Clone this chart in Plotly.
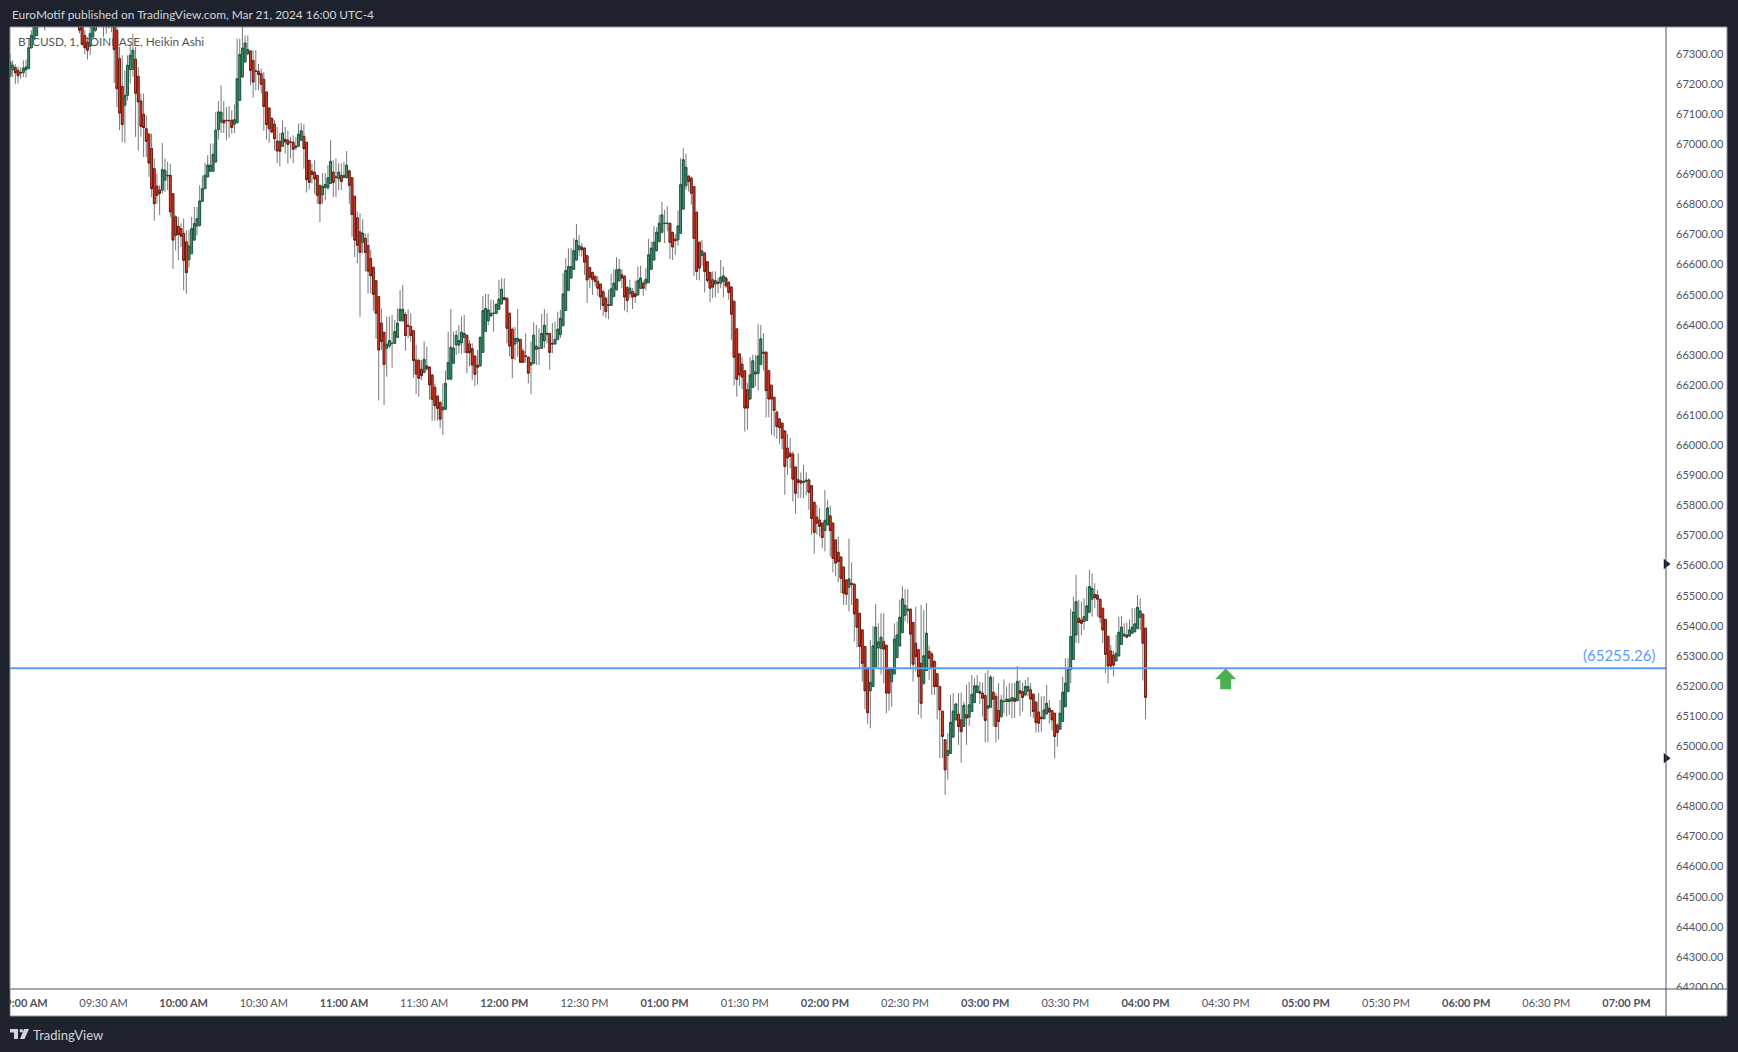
import pandas as pd
import plotly.graph_objects as go

# one minute Heikin Ashi bars (first ones run above the visible top)
open_ = [
    67222, 67244, 67251, 67242, 67235, 67235, 67244, 67249, 67317, 67347,
    67358, 67400, 67420, 67437, 67448, 67462, 67470, 67462, 67453, 67462,
    67456, 67448, 67454, 67447, 67438, 67429, 67419, 67397, 67358, 67336,
    67322, 67353, 67375, 67397, 67420, 67415, 67408, 67396, 67403, 67403,
    67375, 67281, 67189, 67126, 67159, 67245, 67245, 67279, 67222, 67140,
    67096, 67048, 67030, 66982, 66915, 66857, 66844, 66844, 66877, 66893,
    66893, 66832, 66755, 66724, 66716, 66700, 66672, 66613, 66633, 66678,
    66725, 66727, 66807, 66849, 66888, 66907, 66907, 66938, 67045, 67070,
    67076, 67076, 67076, 67076, 67063, 67068, 67142, 67220, 67270, 67297,
    67306, 67275, 67240, 67239, 67231, 67212, 67170, 67117, 67082, 67063,
    67007, 67006, 66990, 67013, 67010, 67004, 67003, 66990, 66990, 67010,
    67023, 67003, 66943, 66907, 66903, 66893, 66860, 66829, 66852, 66852,
    66866, 66904, 66888, 66882, 66893, 66886, 66886, 66908, 66885, 66824,
    66752, 66705, 66671, 66684, 66660, 66617, 66588, 66543, 66490, 66402,
    66372, 66319, 66326, 66334, 66335, 66355, 66410, 66410, 66431, 66395,
    66391, 66377, 66280, 66278, 66249, 66238, 66260, 66256, 66230, 66189,
    66160, 66139, 66114, 66116, 66216, 66216, 66269, 66330, 66329, 66337,
    66355, 66362, 66333, 66317, 66293, 66262, 66260, 66305, 66375, 66410,
    66426, 66434, 66435, 66448, 66466, 66487, 66485, 66435, 66382, 66333,
    66342, 66348, 66309, 66293, 66289, 66263, 66269, 66315, 66319, 66319,
    66344, 66368, 66368, 66335, 66333, 66348, 66364, 66394, 66444, 66511,
    66552, 66581, 66612, 66646, 66655, 66651, 66626, 66587, 66570, 66557,
    66541, 66532, 66507, 66485, 66463, 66461, 66491, 66513, 66543, 66563,
    66557, 66521, 66500, 66507, 66500, 66496, 66518, 66535, 66533, 66537,
    66581, 66612, 66643, 66673, 66704, 66733, 66733, 66734, 66703, 66681,
    66679, 66701, 66781, 66859, 66891, 66884, 66856, 66771, 66671, 66627,
    66635, 66606, 66571, 66546, 66532, 66538, 66535, 66541, 66552, 66538,
    66522, 66475, 66383, 66300, 66266, 66244, 66181, 66150, 66189, 66233,
    66235, 66265, 66306, 66306, 66244, 66196, 66156, 66106, 66084, 66070,
    66044, 65987, 65970, 65967, 65924, 65882, 65878, 65873, 65876, 65881,
    65862, 65807, 65758, 65748, 65738, 65713, 65732, 65762, 65738, 65682,
    65641, 65625, 65592, 65549, 65525, 65538, 65535, 65485, 65438, 65383,
    65328, 65257, 65181, 65195, 65261, 65323, 65322, 65344, 65332, 65252,
    65211, 65237, 65291, 65330, 65374, 65431, 65447, 65452, 65408, 65339,
    65317, 65272, 65206, 65248, 65312, 65303, 65278, 65237, 65195, 65113,
    65018, 64966, 64973, 65027, 65084, 65103, 65084, 65062, 65101, 65093,
    65112, 65142, 65175, 65178, 65173, 65165, 65123, 65126, 65176, 65162,
    65115, 65095, 65146, 65145, 65145, 65147, 65156, 65148, 65181, 65178,
    65167, 65180, 65184, 65169, 65143, 65110, 65093, 65088, 65104, 65123,
    65115, 65106, 65067, 65053, 65079, 65128, 65178, 65252, 65285, 65366,
    65422, 65416, 65411, 65414, 65442, 65485, 65501, 65499, 65485, 65455,
    65418, 65361, 65313, 65299, 65280, 65297, 65335, 65363, 65366, 65363,
    65372, 65377, 65388, 65425, 65435, 65389,
]
high = [
    67297, 67275, 67262, 67255, 67253, 67275, 67278, 67325, 67375, 67420,
    67430, 67455, 67470, 67480, 67490, 67500, 67495, 67480, 67490, 67485,
    67480, 67480, 67475, 67465, 67450, 67440, 67430, 67408, 67375, 67353,
    67386, 67408, 67430, 67445, 67440, 67430, 67420, 67425, 67415, 67414,
    67392, 67320, 67292, 67242, 67292, 67331, 67364, 67320, 67253, 67165,
    67165, 67093, 67032, 67032, 66949, 66899, 66860, 67001, 66949, 66938,
    66932, 66832, 66761, 66755, 66733, 66750, 66711, 66711, 66755, 66788,
    66788, 66860, 66893, 66934, 66960, 66999, 66999, 67104, 67140, 67192,
    67140, 67120, 67123, 67109, 67129, 67347, 67347, 67392, 67358, 67358,
    67309, 67309, 67309, 67264, 67248, 67237, 67170, 67117, 67087, 67076,
    67054, 67034, 67076, 67054, 67041, 67021, 67026, 67021, 67065, 67067,
    67063, 67004, 66943, 66932, 66943, 66893, 66860, 66901, 66901, 66927,
    67010, 66943, 66949, 66934, 66932, 66938, 66974, 66912, 66886, 66824,
    66772, 66768, 66748, 66701, 66701, 66645, 66588, 66543, 66490, 66451,
    66372, 66424, 66424, 66429, 66413, 66451, 66512, 66529, 66440, 66448,
    66435, 66377, 66330, 66285, 66280, 66341, 66324, 66258, 66230, 66200,
    66160, 66141, 66202, 66244, 66374, 66449, 66374, 66379, 66396, 66424,
    66429, 66363, 66346, 66335, 66293, 66313, 66357, 66492, 66499, 66499,
    66481, 66479, 66465, 66546, 66551, 66551, 66485, 66435, 66388, 66390,
    66449, 66348, 66319, 66368, 66291, 66341, 66405, 66396, 66385, 66433,
    66449, 66435, 66368, 66402, 66407, 66440, 66446, 66568, 66618, 66651,
    66651, 66684, 66732, 66695, 66668, 66655, 66629, 66590, 66574, 66563,
    66559, 66533, 66513, 66491, 66513, 66566, 66581, 66621, 66615, 66581,
    66563, 66524, 66546, 66518, 66544, 66590, 66593, 66544, 66585, 66682,
    66673, 66725, 66721, 66762, 66806, 66779, 66790, 66734, 66707, 66698,
    66776, 66950, 66983, 66965, 66891, 66889, 66856, 66771, 66673, 66679,
    66637, 66606, 66571, 66574, 66574, 66552, 66612, 66590, 66557, 66541,
    66524, 66475, 66383, 66300, 66289, 66244, 66203, 66289, 66297, 66297,
    66400, 66396, 66369, 66306, 66244, 66196, 66156, 66112, 66086, 66070,
    66044, 66034, 66020, 65976, 65926, 65970, 65906, 65931, 65907, 65887,
    65862, 65807, 65799, 65788, 65738, 65848, 65815, 65795, 65738, 65682,
    65693, 65625, 65592, 65549, 65686, 65607, 65538, 65485, 65438, 65383,
    65328, 65257, 65350, 65396, 65469, 65405, 65438, 65438, 65332, 65256,
    65252, 65405, 65411, 65483, 65529, 65518, 65518, 65452, 65408, 65460,
    65317, 65466, 65449, 65472, 65331, 65311, 65283, 65237, 65195, 65113,
    65018, 65040, 65167, 65173, 65139, 65173, 65175, 65145, 65200, 65211,
    65233, 65222, 65233, 65211, 65208, 65239, 65250, 65233, 65228, 65173,
    65206, 65167, 65219, 65195, 65206, 65206, 65206, 65263, 65217, 65208,
    65217, 65226, 65206, 65173, 65145, 65173, 65162, 65164, 65200, 65150,
    65117, 65108, 65073, 65150, 65228, 65289, 65289, 65452, 65494, 65566,
    65483, 65477, 65488, 65527, 65582, 65571, 65538, 65516, 65485, 65455,
    65418, 65366, 65333, 65314, 65366, 65427, 65429, 65405, 65407, 65418,
    65455, 65455, 65499, 65488, 65438, 65389,
]
low = [
    67220, 67220, 67196, 67198, 67214, 67220, 67218, 67244, 67314, 67342,
    67355, 67390, 67400, 67375, 67420, 67430, 67430, 67420, 67425, 67420,
    67410, 67415, 67410, 67400, 67395, 67390, 67365, 67325, 67295, 67278,
    67292, 67347, 67370, 67390, 67386, 67353, 67364, 67380, 67369, 67200,
    67120, 67043, 67004, 67001, 67142, 67198, 67220, 67021, 66976, 67021,
    66954, 66954, 66888, 66821, 66742, 66799, 66761, 66833, 66838, 66844,
    66755, 66583, 66644, 66611, 66655, 66511, 66500, 66587, 66633, 66678,
    66694, 66722, 66805, 66847, 66888, 66904, 66904, 66934, 67012, 67034,
    67034, 67010, 67018, 67032, 67034, 67068, 67140, 67218, 67270, 67292,
    67192, 67151, 67176, 67176, 67165, 67041, 67012, 67001, 67032, 66976,
    66934, 66923, 66987, 66965, 66932, 66949, 66934, 66976, 66987, 67007,
    66915, 66836, 66846, 66866, 66832, 66799, 66738, 66799, 66810, 66844,
    66866, 66821, 66821, 66844, 66844, 66882, 66882, 66799, 66689, 66622,
    66600, 66423, 66634, 66573, 66501, 66501, 66443, 66350, 66145, 66313,
    66130, 66224, 66319, 66254, 66335, 66355, 66410, 66407, 66311, 66352,
    66341, 66221, 66167, 66158, 66213, 66236, 66244, 66147, 66078, 66078,
    66078, 66053, 66031, 66114, 66213, 66213, 66269, 66296, 66302, 66300,
    66302, 66236, 66258, 66213, 66193, 66198, 66258, 66304, 66374, 66396,
    66424, 66374, 66433, 66446, 66465, 66479, 66335, 66291, 66219, 66280,
    66291, 66271, 66271, 66271, 66202, 66166, 66267, 66263, 66263, 66319,
    66319, 66335, 66247, 66302, 66330, 66346, 66352, 66391, 66444, 66511,
    66552, 66579, 66610, 66624, 66624, 66563, 66469, 66518, 66496, 66524,
    66491, 66446, 66426, 66419, 66415, 66460, 66488, 66511, 66541, 66518,
    66444, 66438, 66485, 66449, 66469, 66494, 66515, 66493, 66511, 66535,
    66579, 66610, 66640, 66671, 66701, 66668, 66707, 66615, 66612, 66629,
    66659, 66699, 66779, 66845, 66839, 66795, 66559, 66546, 66544, 66593,
    66504, 66535, 66471, 66485, 66488, 66502, 66518, 66488, 66518, 66480,
    66347, 66195, 66158, 66194, 66183, 66042, 66048, 66147, 66186, 66192,
    66178, 66264, 66245, 66089, 66089, 66031, 66026, 66018, 66001, 65983,
    65832, 65898, 65920, 65810, 65769, 65821, 65821, 65821, 65830, 65782,
    65699, 65636, 65699, 65693, 65655, 65644, 65729, 65627, 65574, 65561,
    65541, 65505, 65466, 65466, 65444, 65466, 65345, 65325, 65259, 65211,
    65119, 65071, 65056, 65195, 65259, 65259, 65235, 65206, 65106, 65115,
    65128, 65233, 65289, 65328, 65372, 65411, 65405, 65252, 65211, 65245,
    65101, 65090, 65200, 65248, 65217, 65167, 65167, 65086, 64957, 64957,
    64835, 64885, 64973, 65023, 65084, 65001, 64942, 65060, 65001, 65064,
    65112, 65139, 65173, 65137, 65095, 65009, 65009, 65123, 65062, 65009,
    65018, 65090, 65106, 65095, 65101, 65090, 65090, 65145, 65097, 65112,
    65162, 65162, 65095, 65090, 65042, 65042, 65045, 65086, 65102, 65073,
    65049, 64956, 64995, 65051, 65079, 65126, 65176, 65206, 65283, 65339,
    65339, 65366, 65383, 65414, 65438, 65427, 65455, 65427, 65405, 65339,
    65239, 65206, 65250, 65228, 65278, 65294, 65333, 65361, 65355, 65359,
    65370, 65375, 65385, 65383, 65215, 65086,
]
close = [
    67270, 67259, 67234, 67224, 67233, 67249, 67253, 67317, 67358, 67397,
    67419, 67440, 67455, 67460, 67475, 67480, 67455, 67445, 67470, 67450,
    67440, 67460, 67440, 67430, 67420, 67410, 67375, 67328, 67317, 67309,
    67364, 67397, 67419, 67430, 67410, 67400, 67392, 67410, 67392, 67311,
    67181, 67100, 67062, 67159, 67259, 67292, 67309, 67166, 67137, 67056,
    67052, 67006, 66934, 66849, 66799, 66827, 66833, 66912, 66910, 66892,
    66772, 66678, 66694, 66697, 66691, 66611, 66570, 66658, 66716, 66733,
    66749, 66808, 66849, 66893, 66927, 66927, 66963, 67043, 67104, 67103,
    67067, 67075, 67075, 67052, 67078, 67214, 67295, 67316, 67333, 67311,
    67242, 67203, 67239, 67228, 67196, 67122, 67062, 67048, 67037, 67015,
    66974, 66973, 67034, 67004, 66996, 67003, 66980, 66987, 67030, 67041,
    66982, 66879, 66870, 66896, 66881, 66827, 66799, 66857, 66863, 66885,
    66940, 66870, 66886, 66904, 66873, 66893, 66927, 66860, 66763, 66678,
    66661, 66637, 66701, 66637, 66575, 66560, 66498, 66435, 66313, 66341,
    66265, 66332, 66344, 66335, 66374, 66402, 66448, 66448, 66361, 66391,
    66361, 66278, 66233, 66219, 66228, 66282, 66251, 66197, 66149, 66128,
    66119, 66083, 66123, 66202, 66271, 66322, 66319, 66362, 66344, 66372,
    66368, 66304, 66304, 66263, 66232, 66256, 66355, 66444, 66451, 66446,
    66435, 66435, 66465, 66482, 66515, 66480, 66385, 66326, 66285, 66351,
    66352, 66272, 66272, 66292, 66236, 66271, 66362, 66326, 66318, 66368,
    66395, 66366, 66305, 66333, 66348, 66382, 66418, 66499, 66577, 66590,
    66590, 66643, 66677, 66659, 66646, 66605, 66546, 66555, 66548, 66541,
    66518, 66489, 66461, 66441, 66462, 66516, 66535, 66579, 66581, 66552,
    66489, 66477, 66518, 66489, 66491, 66543, 66552, 66518, 66548, 66629,
    66651, 66671, 66704, 66734, 66762, 66734, 66734, 66671, 66655, 66676,
    66725, 66862, 66945, 66920, 66873, 66834, 66684, 66574, 66585, 66642,
    66574, 66544, 66518, 66522, 66543, 66535, 66555, 66559, 66526, 66504,
    66432, 66289, 66216, 66230, 66223, 66120, 66120, 66230, 66277, 66240,
    66293, 66350, 66302, 66178, 66150, 66150, 66112, 66059, 66055, 66020,
    65926, 65954, 65959, 65884, 65837, 65873, 65871, 65877, 65881, 65840,
    65753, 65707, 65738, 65727, 65690, 65747, 65788, 65713, 65621, 65605,
    65610, 65555, 65505, 65501, 65552, 65534, 65436, 65392, 65328, 65272,
    65181, 65108, 65209, 65330, 65392, 65343, 65359, 65319, 65173, 65173,
    65252, 65352, 65366, 65425, 65486, 65465, 65452, 65369, 65269, 65294,
    65228, 65139, 65297, 65372, 65289, 65256, 65195, 65195, 65117, 65029,
    64918, 64982, 65076, 65113, 65137, 65062, 65045, 65133, 65090, 65134,
    65169, 65197, 65197, 65173, 65156, 65082, 65131, 65226, 65153, 65062,
    65079, 65150, 65145, 65153, 65153, 65158, 65146, 65212, 65173, 65159,
    65195, 65195, 65153, 65112, 65075, 65073, 65088, 65117, 65139, 65110,
    65084, 65029, 65042, 65106, 65176, 65206, 65252, 65361, 65442, 65477,
    65408, 65405, 65427, 65463, 65527, 65521, 65490, 65485, 65425, 65383,
    65302, 65263, 65263, 65266, 65305, 65375, 65392, 65369, 65359, 65383,
    65392, 65403, 65458, 65446, 65339, 65159,
]

price_ticks = [64200 + 100 * i for i in range(32)]
time_ticks = ["09:00", "09:30", "10:00", "10:30", "11:00", "11:30", "12:00", "12:30",
              "13:00", "13:30", "14:00", "14:30", "15:00", "15:30", "16:00", "16:30",
              "17:00", "17:30", "18:00", "18:30", "19:00"]
time_labels = ["09:00 AM", "09:30 AM", "10:00 AM", "10:30 AM", "11:00 AM", "11:30 AM",
               "12:00 PM", "12:30 PM", "01:00 PM", "01:30 PM", "02:00 PM", "02:30 PM",
               "03:00 PM", "03:30 PM", "04:00 PM", "04:30 PM", "05:00 PM", "05:30 PM",
               "06:00 PM", "06:30 PM", "07:00 PM"]
level = 65255.26
axis_marks = [65602, 64957]
arrow_time = "16:30"

assert len(open_) == len(high) == len(low) == len(close) == 426, (len(open_), len(high), len(low), len(close))

DAY = "2024-03-21 "
times = pd.date_range(DAY + "08:55", periods=len(open_), freq="min")
x_start, x_end = DAY + "08:55:00", DAY + "19:14:48"
y_range = [64190, 67386]

FRAME = "#1e222d"
FONT = "Lato"
W, H = 1738, 1052
L, R, T, B = 10, 1666, 27, 989


def paper_x(px):
    return (px - L) / (R - L)


def paper_y(py):
    return (B - py) / (B - T)


def page_rect(x0, y0, x1, y1, fill, layer="above", line=None):
    return dict(type="rect", xref="paper", yref="paper", layer=layer,
                x0=paper_x(x0), x1=paper_x(x1), y0=paper_y(y0), y1=paper_y(y1),
                fillcolor=fill, line=dict(width=1 if line else 0, color=line or fill))


fig = go.Figure()

# grey wicks underneath, then the bodies with their dark outline
fig.add_trace(go.Candlestick(
    x=times, open=open_, high=high, low=low, close=close,
    increasing=dict(line=dict(color="#787878", width=1), fillcolor="#787878"),
    decreasing=dict(line=dict(color="#787878", width=1), fillcolor="#787878"),
    whiskerwidth=0, hoverinfo="skip", showlegend=False,
))
body_top = [max(o, c) for o, c in zip(open_, close)]
body_bottom = [min(o, c) for o, c in zip(open_, close)]
fig.add_trace(go.Candlestick(
    x=times, open=open_, high=body_top, low=body_bottom, close=close,
    increasing=dict(line=dict(color="#1b5a40", width=1), fillcolor="#4f9f78"),
    decreasing=dict(line=dict(color="#731b12", width=1), fillcolor="#ee4630"),
    whiskerwidth=0, hoverinfo="skip", showlegend=False,
))

fig.add_trace(go.Scatter(
    x=[x_start, x_end], y=[level, level], mode="lines",
    line=dict(color="#5b9cf6", width=2), hoverinfo="skip", showlegend=False,
))
fig.add_trace(go.Scatter(
    x=[x_end, x_end], y=axis_marks, mode="markers", cliponaxis=False,
    marker=dict(symbol="triangle-right", size=9, color="#131722", line=dict(width=0)),
    hoverinfo="skip", showlegend=False,
))

shapes = [
    # white chart panel with the two axis strips
    page_rect(10, 27, 1727, 1016, "#ffffff", layer="below", line="#9598a1"),
    # the label that sits behind the bars
    dict(type="rect", xref="paper", yref="paper", layer="below",
         x0=paper_x(15), x1=paper_x(400), y0=paper_y(33), y1=paper_y(50),
         fillcolor="rgba(0,0,0,0)", line=dict(width=0),
         label=dict(text="BTCUSD, 1, COINBASE, Heikin Ashi", textposition="middle left",
                    padding=0, font=dict(family=FONT, size=11.8, color="#555555"))),
    # cuts the first time label and the lowest price label, as in the original
    page_rect(0, 990, 9.5, 1016, FRAME),
    page_rect(1667, 989.5, 1726.5, 1000, "#ffffff"),
    # axis lines
    dict(type="line", xref="paper", yref="paper", layer="above",
         x0=paper_x(10), x1=paper_x(1727), y0=0, y1=0, line=dict(color="#50535e", width=1)),
    dict(type="line", xref="paper", yref="paper", layer="above",
         x0=1, x1=1, y0=paper_y(1016), y1=paper_y(27), line=dict(color="#50535e", width=1)),
    # green arrow under the level line
    dict(type="path", xref="x", yref="y", xsizemode="pixel", ysizemode="pixel",
         xanchor=DAY + arrow_time, yanchor=level, layer="above", fillcolor="#4caf50",
         line=dict(width=0),
         path="M 0 0 L 10.5 -11 L 5.5 -11 L 5.5 -21 L -5.5 -21 L -5.5 -11 L -10.5 -11 Z"),
    # TradingView logo
    dict(type="path", xref="paper", yref="paper", xsizemode="pixel", ysizemode="pixel",
         xanchor=paper_x(10), yanchor=paper_y(1034), layer="above", fillcolor="#d1d4dc",
         line=dict(width=0),
         path="M 0 5 L 8 5 L 8 -5 L 4 -5 L 4 1.5 L 0 1.5 Z "
              "M 14 5 L 19 5 L 14.5 -5 L 10 -5 Z"),
    dict(type="circle", xref="paper", yref="paper", xsizemode="pixel", ysizemode="pixel",
         xanchor=paper_x(10), yanchor=paper_y(1034), layer="above", fillcolor="#d1d4dc",
         line=dict(width=0), x0=9.5, x1=13, y0=1.5, y1=5),
]

annotations = [
    dict(text="EuroMotif published on TradingView.com, Mar 21, 2024 16:00 UTC-4",
         xref="paper", yref="paper", x=paper_x(10), y=paper_y(14.5),
         xanchor="left", yanchor="middle", showarrow=False,
         font=dict(family=FONT, size=11.9, color="#d1d4dc")),
    dict(text="TradingView", xref="paper", yref="paper", x=paper_x(31), y=paper_y(1034.5),
         xanchor="left", yanchor="middle", showarrow=False,
         font=dict(family=FONT, size=13, color="#d1d4dc")),
    dict(text="(%.2f)" % level, xref="paper", yref="y", x=paper_x(1657), y=level,
         xanchor="right", yanchor="bottom", yshift=2, showarrow=False,
         font=dict(family=FONT, size=15, color="#5b9cf6")),
]

tick_text = []
for label in time_labels:
    if label[3:5] == "00":
        tick_text.append("<b>" + label + "</b>")
    else:
        tick_text.append(label)

fig.update_layout(
    width=W, height=H, autosize=False,
    margin=dict(l=L, r=W - R, t=T, b=H - B, pad=0),
    paper_bgcolor=FRAME, plot_bgcolor="#ffffff",
    font=dict(family=FONT, size=11, color="#50535e"),
    boxgap=0.05,
    showlegend=False,
    shapes=shapes, annotations=annotations,
    xaxis=dict(
        type="date", range=[x_start, x_end], rangeslider=dict(visible=False), automargin=False,
        tickmode="array", tickvals=[DAY + t for t in time_ticks], ticktext=tick_text,
        showgrid=False, zeroline=False, showline=False, ticks="",
        ticklabeloverflow="allow", ticklabelstandoff=6,
        tickfont=dict(family=FONT, size=11, color="#50535e"),
    ),
    yaxis=dict(
        side="right", range=y_range, automargin=False,
        tickmode="array", tickvals=price_ticks, ticktext=["%.2f" % p for p in price_ticks],
        showgrid=False, zeroline=False, showline=False, ticks="",
        ticklabeloverflow="allow", ticklabelstandoff=9, ticklabelshift=1,
        tickfont=dict(family=FONT, size=11, color="#50535e"),
    ),
)

# page margin off so the figure fills the window exactly
fig.write_html("out.html", post_script="document.body.style.margin='0';",
               config=dict(displayModeBar=False))
